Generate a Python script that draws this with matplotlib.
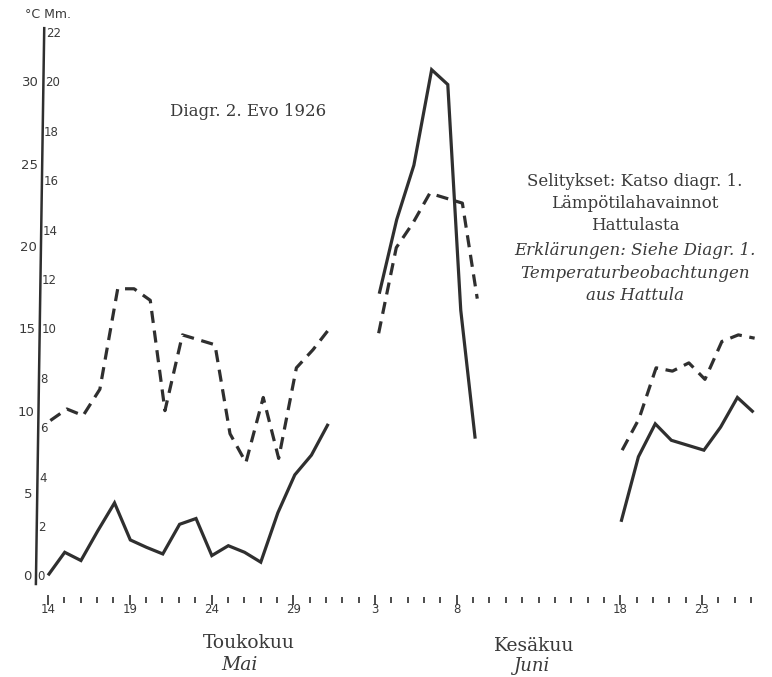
import numpy as np
import matplotlib
matplotlib.use("Agg")
import matplotlib.pyplot as plt
from matplotlib.ticker import FixedLocator
from matplotlib.transforms import Affine2D

# ---------------- data ----------------
# May 14 - May 31 (daily)
may_dates = list(range(14, 32))
may_solid = [0.1, 1.5, 1.0, 2.8, 4.5, 2.25, 1.8, 1.4, 3.2, 3.55, 1.3, 1.9, 1.5, 0.9, 3.9, 6.2, 7.4, 9.3]
may_dashed = [9.5, 10.2, 9.8, 11.4, 17.5, 17.5, 16.8, 10.1, 14.7, 14.4, 14.1, 8.7, 6.95, 10.9, 7.2, 12.7, 13.8, 15.1]

# June 3 - June 9
jun1_dates = list(range(3, 10))
jun1_solid = [17.2, 21.7, 25.0, 30.8, 29.9, 16.2, 8.4]
jun1_dashed = [14.8, 20.0, 21.5, 23.3, 23.0, 22.7, 16.9]

# June 18 - June 26
jun2_dates = list(range(18, 27))
jun2_solid = [3.35, 7.3, 9.3, 8.3, 8.0, 7.7, 9.1, 10.9, 10.0]
jun2_dashed = [7.7, 9.6, 12.7, 12.5, 13.0, 12.0, 14.3, 14.7, 14.5]

c_ticks = [0, 5, 10, 15, 20, 25, 30]
mm_ticks = [0, 2, 4, 6, 8, 10, 12, 14, 16, 18, 20, 22]
day_labels = ["14", "19", "24", "29", "3", "8", "18", "23"]
label_days = [0, 5, 10, 15, 20, 25, 35, 40]   # index of days since May 14
n_days = 44

def may_idx(d):
    return d - 14

def jun_idx(d):
    return d + 17

# ---------------- figure ----------------
W, H = 772, 677
fig = plt.figure(figsize=(W / 100, H / 100), dpi=100)
fig.patch.set_facecolor("white")
ax = fig.add_axes([0, 0, 1, 1])
ax.set_facecolor("white")

x0, dx = 48.0, 16.35   # pixel of day 0, pixels per day
y0, dy = 577.0, 16.47  # pixel of 0 degC, pixels per degC
ax.set_xlim((0 - x0) / dx, (W - x0) / dx)
ax.set_ylim((y0 - H) / dy, y0 / dy)

# the printed sheet is slightly sheared (higher parts lean right)
k = 0.015
base = H - y0
shear = Affine2D().translate(0, -base).skew(np.arctan(k), 0).translate(0, base)
tr = ax.transData + shear

ink = "#2f2f2f"
txt = "#3a3a3a"
lw = 2.3

segments = [
    ([may_idx(d) for d in may_dates], may_solid, may_dashed),
    ([jun_idx(d) for d in jun1_dates], jun1_solid, jun1_dashed),
    ([jun_idx(d) for d in jun2_dates], jun2_solid, jun2_dashed),
]
for xs, s, d in segments:
    ax.plot(xs, s, color=ink, lw=lw, solid_joinstyle="miter", solid_capstyle="butt",
            transform=tr)
    ax.plot(xs, d, color=ink, lw=lw, dashes=(3.8, 2.4), dash_capstyle="butt",
            transform=tr)

# y axis line (drawn sheared like the sheet)
for sp in ["top", "right", "bottom", "left"]:
    ax.spines[sp].set_visible(False)
axis_x = (36 - x0) / dx
ax.plot([axis_x, axis_x], [-0.5, 33.4], color=ink, lw=1.8, transform=tr,
        solid_capstyle="butt")
ax.set_yticks([])

for v in c_ticks:
    ax.text(axis_x - 4.5 / dx, v, str(v), fontsize=9.5, color=txt,
            ha="right", va="center", family="DejaVu Sans", transform=tr)
for m in mm_ticks:
    ax.text(axis_x + 1.5 / dx, m * 1.5, str(m), fontsize=8.5, color=txt,
            ha="left", va="center", family="DejaVu Sans", transform=tr)

# x axis (tick marks only)
ax.spines["bottom"].set_position(("data", (y0 - 600) / dy))
ax.xaxis.set_major_locator(FixedLocator(label_days))
ax.set_xticklabels(day_labels)
ax.xaxis.set_minor_locator(FixedLocator(list(range(n_days))))
ax.tick_params(axis="x", which="major", direction="inout", length=7, width=1.2,
               color=ink, pad=-1, labelsize=8.5, labelcolor=txt)
ax.tick_params(axis="x", which="minor", direction="inout", length=4.5, width=1.2,
               color=ink)

# ---------------- text ----------------
def px(x, y):
    return x / W, 1 - y / H

serif = "DejaVu Serif"
fig.text(*px(48, 15), "°C Mm.", fontsize=9, color=txt, ha="center", va="center")
fig.text(*px(248, 112), "Diagr. 2. Evo 1926", fontsize=12, color=txt,
         ha="center", va="center", family=serif)

legend_lines = [
    ("Selitykset: Katso diagr. 1.", 181, "normal"),
    ("Lämpötilahavainnot", 204, "normal"),
    ("Hattulasta", 226, "normal"),
    ("Erklärungen: Siehe Diagr. 1.", 251, "italic"),
    ("Temperaturbeobachtungen", 273, "italic"),
    ("aus Hattula", 295, "italic"),
]
for s, y, st in legend_lines:
    fig.text(*px(635, y), s, fontsize=12, color=txt, ha="center", va="center",
             family=serif, style=st)

fig.text(*px(249, 643), "Toukokuu", fontsize=13.5, color=txt, ha="center", va="center", family=serif)
fig.text(*px(239, 665), "Mai", fontsize=13.5, color=txt, ha="center", va="center", family=serif, style="italic")
fig.text(*px(534, 646), "Kesäkuu", fontsize=13.5, color=txt, ha="center", va="center", family=serif)
fig.text(*px(531, 666), "Juni", fontsize=13, color=txt, ha="center", va="center", family=serif, style="italic")

fig.savefig("out.png", dpi=100, facecolor="white")
